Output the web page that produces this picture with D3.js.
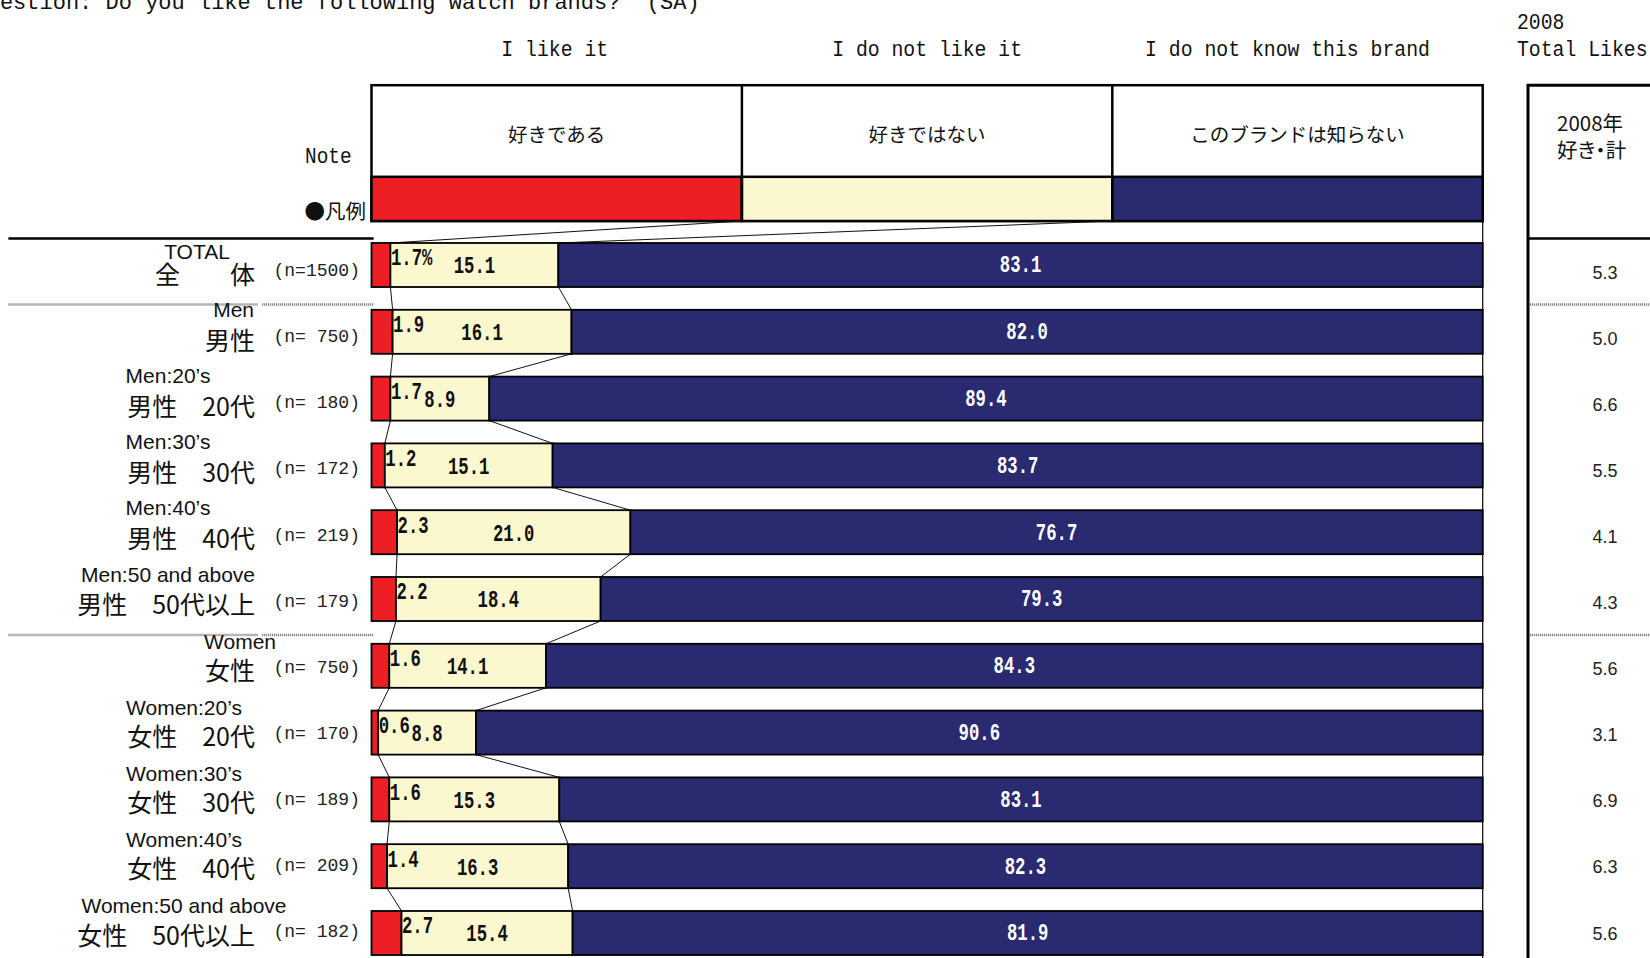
<!DOCTYPE html>
<html>
<head>
<meta charset="utf-8">
<script src="https://cdn.jsdelivr.net/npm/d3@7"></script>
<style>
  body { margin: 0; background: #fff; }
  svg { display: block; }
</style>
</head>
<body>
<script>
// ---- data -------------------------------------------------------------
const categories = ["total", "men", "men20", "men30", "men40", "men50",
                    "women", "women20", "women30", "women40", "women50"];
const labelsEn = ["TOTAL", "Men", "Men:20’s", "Men:30’s", "Men:40’s", "Men:50 and above",
                  "Women", "Women:20’s", "Women:30’s", "Women:40’s", "Women:50 and above"];
const labelsJa = ["全　　体", "男性", "男性　20代", "男性　30代", "男性　40代", "男性　50代以上",
                  "女性", "女性　20代", "女性　30代", "女性　40代", "女性　50代以上"];
const sampleSizes = ["(n=1500)", "(n= 750)", "(n= 180)", "(n= 172)", "(n= 219)", "(n= 179)",
                     "(n= 750)", "(n= 170)", "(n= 189)", "(n= 209)", "(n= 182)"];

const likeIt       = [1.7, 1.9, 1.7, 1.2, 2.3, 2.2, 1.6, 0.6, 1.6, 1.4, 2.7];
const dislikeIt    = [15.1, 16.1, 8.9, 15.1, 21.0, 18.4, 14.1, 8.8, 15.3, 16.3, 15.4];
const unknownBrand = [83.1, 82.0, 89.4, 83.7, 76.7, 79.3, 84.3, 90.6, 83.1, 82.3, 81.9];
const totalLikes2008 = [5.3, 5.0, 6.6, 5.5, 4.1, 4.3, 5.6, 3.1, 6.9, 6.3, 5.6];

const seriesKeys = ["like", "dislike", "unknown"];
const seriesEn = ["I like it", "I do not like it", "I do not know this brand"];
const seriesJa = ["好きである", "好きではない", "このブランドは知らない"];

const titleText = "Question: Do you like the following watch brands?  (SA)";
const tableHeader = ["2008", "Total Likes"];
const tableHeaderJa = ["2008年", "好き・計"];

// ---- styling ----------------------------------------------------------
const W = 1650, H = 958;
const colors = { like: "#ED1F24", dislike: "#FBF8D0", unknown: "#292A70" };
const MONO = "'Liberation Mono','DejaVu Sans Mono',monospace";
const SANS = "'Liberation Sans',Arial,sans-serif";
const CJK = "'Noto Sans CJK JP','Noto Sans CJK SC',sans-serif";

const plotL = 371.5, plotR = 1482.7;
const boxTop = 85.2, boxMid = 176.8, boxBottom = 221;
const tableL = 1528;
const headerShift = [-2, 0, -10];   // small horizontal nudges for the column headings

const svg = d3.select("body").append("svg")
  .attr("width", W).attr("height", H)
  .attr("viewBox", `0 0 ${W} ${H}`);

// ---- scales -----------------------------------------------------------
const x = d3.scaleLinear().domain([0, 1]).range([plotL, plotR]);
const y = d3.scaleBand().domain(categories)
  .range([231.6, 966.4]).paddingInner(0.341).paddingOuter(0.1705);
const yLabel = d3.scalePoint().domain(categories).range([271.5, 932.5]);
const legendX = d3.scaleBand().domain(seriesKeys).range([plotL, plotR]);

const rows = categories.map((c, i) => ({
  cat: c, like: likeIt[i], dislike: dislikeIt[i], unknown: unknownBrand[i]
}));
const stacked = d3.stack().keys(seriesKeys).offset(d3.stackOffsetExpand)(rows);

// narrow monospace text helper (horizontal squeeze)
function squeezed(parent, tx, ty, str, opts) {
  const g = parent.append("g").attr("transform", `translate(${tx},${ty}) scale(${opts.sx || 1},1)`);
  return g.append("text")
    .attr("text-anchor", opts.anchor || "middle")
    .attr("dominant-baseline", opts.baseline || "central")
    .attr("font-family", opts.family || MONO)
    .attr("font-size", opts.size)
    .attr("font-weight", opts.weight || "normal")
    .attr("fill", opts.fill || "#111")
    .text(str);
}

// ---- title & column headings -----------------------------------------
svg.append("text").attr("x", -26.5).attr("y", 8.5)
  .attr("font-family", MONO).attr("font-size", 22).attr("fill", "#111")
  .attr("xml:space", "preserve").style("white-space", "pre")
  .text(titleText);

seriesKeys.forEach((k, i) => {
  squeezed(svg, legendX(k) + legendX.bandwidth() / 2 + headerShift[i], 50.5, seriesEn[i],
    { size: 22, sx: 0.9 });
});
squeezed(svg, 1517, 23, tableHeader[0], { size: 22, sx: 0.9, anchor: "start" });
squeezed(svg, 1517, 50, tableHeader[1], { size: 22, sx: 0.9, anchor: "start" });

// ---- legend box -------------------------------------------------------
const legend = svg.append("g");
legend.append("rect").attr("x", plotL).attr("y", boxTop)
  .attr("width", plotR - plotL).attr("height", boxBottom - boxTop)
  .attr("fill", "#fff").attr("stroke", "#000").attr("stroke-width", 2.5);
legend.selectAll("rect.swatch").data(seriesKeys).join("rect")
  .attr("class", "swatch")
  .attr("x", d => legendX(d)).attr("y", boxMid)
  .attr("width", legendX.bandwidth()).attr("height", boxBottom - boxMid)
  .attr("fill", d => colors[d]).attr("stroke", "#000").attr("stroke-width", 2.5);
legend.selectAll("line.div").data(seriesKeys.slice(1)).join("line")
  .attr("class", "div")
  .attr("x1", d => legendX(d)).attr("x2", d => legendX(d))
  .attr("y1", boxTop).attr("y2", boxBottom)
  .attr("stroke", "#000").attr("stroke-width", 2.5);
legend.selectAll("text.ja").data(seriesKeys).join("text")
  .attr("class", "ja")
  .attr("x", d => legendX(d) + legendX.bandwidth() / 2).attr("y", 133.5)
  .attr("text-anchor", "middle").attr("dominant-baseline", "central")
  .attr("font-family", CJK).attr("font-size", 19.5).attr("fill", "#111")
  .text((d, i) => seriesJa[i]);

squeezed(svg, 351.5, 157.5, "Note", { size: 22, sx: 0.88, anchor: "end" });
svg.append("text").attr("x", 366).attr("y", 209.5)
  .attr("text-anchor", "end").attr("dominant-baseline", "central")
  .attr("font-family", CJK).attr("font-size", 20.5).attr("fill", "#111")
  .text("●凡例");

// ---- separators (left label column and right table) -------------------
const topRule = yLabel(categories[0]) - yLabel.step() / 2;
svg.append("line").attr("x1", 8.4).attr("x2", 373.6).attr("y1", topRule).attr("y2", topRule)
  .attr("stroke", "#000").attr("stroke-width", 2.5);

const groupBreaks = [
  (yLabel("total") + yLabel("men")) / 2,
  (yLabel("men50") + yLabel("women")) / 2
];
const sepSegments = [[8.4, 258], [262, 373.6], [tableL, W]];
groupBreaks.forEach(by => {
  sepSegments.forEach(([a, b]) => {
    svg.append("line").attr("x1", a).attr("x2", b).attr("y1", by).attr("y2", by)
      .attr("stroke", "#858585").attr("stroke-width", 2.6)
      .attr("stroke-dasharray", "1.2 0.8");
  });
});

// right table frame
svg.append("path")
  .attr("d", `M${W + 2},${boxTop} H${tableL} V${H + 2}`)
  .attr("fill", "none").attr("stroke", "#000").attr("stroke-width", 3);
svg.append("line").attr("x1", tableL).attr("x2", W).attr("y1", topRule).attr("y2", topRule)
  .attr("stroke", "#000").attr("stroke-width", 2.5);
tableHeaderJa.forEach((t, i) => {
  svg.append("text").attr("x", 1557).attr("y", 121.5 + i * 27)
    .attr("dominant-baseline", "central")
    .attr("font-family", CJK).attr("font-size", 20.5).attr("fill", "#111")
    .style("font-feature-settings", "'palt' 1")
    .text(t);
});

svg.append("g").selectAll("text").data(categories).join("text")
  .attr("x", 1605).attr("y", d => yLabel(d) + 1)
  .attr("text-anchor", "middle").attr("dominant-baseline", "central")
  .attr("font-family", SANS).attr("font-size", 18).attr("fill", "#222")
  .text((d, i) => totalLikes2008[i].toFixed(1));

// ---- right edge of plot area ------------------------------------------
svg.append("line").attr("x1", plotR).attr("x2", plotR).attr("y1", boxBottom).attr("y2", H)
  .attr("stroke", "#000").attr("stroke-width", 1.2);

// ---- connectors between consecutive bars ------------------------------
const connectors = svg.append("g").attr("stroke", "#111").attr("stroke-width", 1).attr("fill", "none");
[0, 1].forEach(si => {
  // legend swatch boundary down to the first bar
  connectors.append("line")
    .attr("x1", legendX(seriesKeys[si + 1])).attr("y1", boxBottom)
    .attr("x2", x(stacked[si][0][1])).attr("y2", y(categories[0]));
  for (let i = 0; i < categories.length - 1; i++) {
    connectors.append("line")
      .attr("x1", x(stacked[si][i][1])).attr("y1", y(categories[i]) + y.bandwidth())
      .attr("x2", x(stacked[si][i + 1][1])).attr("y2", y(categories[i + 1]));
  }
});

// ---- stacked bars ------------------------------------------------------
const bars = svg.append("g");
bars.selectAll("g").data(stacked).join("g")
  .attr("fill", s => colors[s.key])
  .selectAll("rect").data(s => s).join("rect")
  .attr("x", d => x(d[0]))
  .attr("width", d => x(d[1]) - x(d[0]))
  .attr("y", d => y(d.data.cat))
  .attr("height", y.bandwidth())
  .attr("stroke", "#000").attr("stroke-width", 1.8);

// ---- value labels ------------------------------------------------------
const valueLabels = svg.append("g");
const valFont = { size: 24, sx: 0.72, weight: "bold" };
categories.forEach((c, i) => {
  const cy = y(c) + y.bandwidth() / 2;
  const redEnd = x(stacked[0][i][1]);
  const creamEnd = x(stacked[1][i][1]);
  squeezed(valueLabels, redEnd + 0.5, cy - 6, likeIt[i].toFixed(1) + (i === 0 ? "%" : ""),
    Object.assign({}, valFont, { anchor: "start" }));
  squeezed(valueLabels, (redEnd + creamEnd) / 2, cy + 2, dislikeIt[i].toFixed(1), valFont);
  squeezed(valueLabels, (creamEnd + plotR) / 2, cy + 1, unknownBrand[i].toFixed(1),
    Object.assign({}, valFont, { fill: "#fff" }));
});

// ---- row labels ---------------------------------------------------------
const rowLabels = svg.append("g");
function enLabelPos(c) {
  if (c === "total") return { x: 197, anchor: "middle", dy: -20 };
  if (c === "men") return { x: 254, anchor: "end", dy: -28 };
  if (c === "women") return { x: 276, anchor: "end", dy: -27 };
  if (c.startsWith("men")) return { x: 168, anchor: "middle", dy: -28 };
  return { x: 184, anchor: "middle", dy: -27 };
}
categories.forEach((c, i) => {
  const cy = yLabel(c);
  const p = enLabelPos(c);
  rowLabels.append("text")
    .attr("x", p.x).attr("y", cy + p.dy)
    .attr("text-anchor", p.anchor).attr("dominant-baseline", "central")
    .attr("font-family", SANS).attr("font-size", 21).attr("fill", "#111")
    .text(labelsEn[i]);
  rowLabels.append("text")
    .attr("x", 255).attr("y", cy + 1)
    .attr("text-anchor", "end").attr("dominant-baseline", "central")
    .attr("font-family", CJK).attr("font-size", 25).attr("fill", "#111")
    .text(labelsJa[i]);
  squeezed(rowLabels, 360, cy, sampleSizes[i], { size: 19, sx: 0.95, anchor: "end", fill: "#222" })
    .attr("xml:space", "preserve").style("white-space", "pre");
});
</script>
</body>
</html>
